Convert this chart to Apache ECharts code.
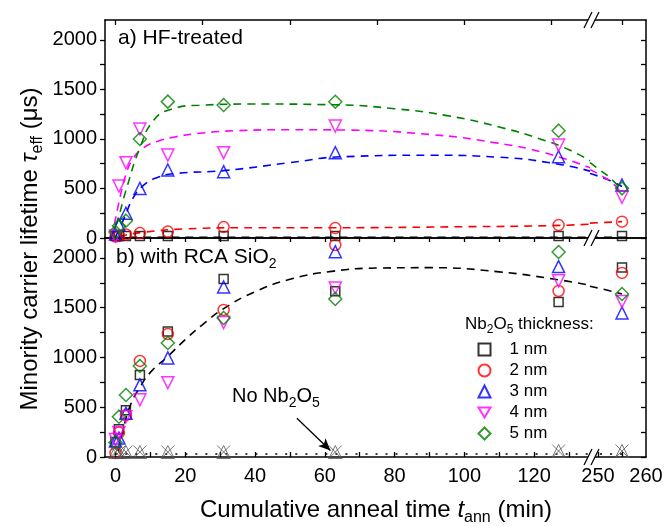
<!DOCTYPE html>
<html>
<head>
<meta charset="utf-8">
<script src="https://cdn.jsdelivr.net/npm/echarts@6/dist/echarts.min.js"></script>
<style>
html, body { margin: 0; padding: 0; background: #fff; }
#chart { width: 665px; height: 526px; }
</style>
</head>
<body>
<div id="chart"></div>
<script>
// cumulative anneal times (min)
const times = [0, 1, 3, 7, 15, 31, 63, 127, 255];
const thickness = ['1 nm', '2 nm', '3 nm', '4 nm', '5 nm'];

// a) HF-treated, tau_eff (us)
const hf1nm = [20, 20, 20, 20, 20, 20, 20, 20, 20];
const hf2nm = [15, 20, 35, 50, 65, 110, 100, 130, 165];
const hf3nm = [40, 130, 250, 500, 686, 669, 861, 820, 535];
const hf4nm = [20, 525, 760, 1100, 837, 861, 1130, 938, 410];
const hf5nm = [60, 120, 175, 999, 1376, 1342, 1375, 1083, 501];

// b) with RCA SiO2, tau_eff (us)
const rca1nm = [150, 280, 470, 825, 1260, 1789, 1665, 1556, 1903];
const rca2nm = [40, 245, 420, 965, 1236, 1477, 2130, 1668, 1849];
const rca3nm = [160, 190, 440, 725, 995, 1708, 2063, 1913, 1447];
const rca4nm = [175, 245, 405, 575, 747, 1350, 1698, 1770, 1561];
const rca5nm = [145, 405, 623, 915, 1145, 1397, 1588, 2060, 1638];
const noNb = [50, 50, 50, 50, 50, 50, 50, 60, 60];

// guide-to-the-eye curves [t, tau]
const fitHf1 = [[0, 8], [136, 8], [248.33, 8], [256, 8]];
const fitHf2 = [[1, 15], [3, 30], [8, 58], [20, 92], [40, 104], [63, 104], [100, 114], [124, 124], [136, 140], [248.33, 150], [255, 165]];
const fitHf3 = [[0, 10], [2.5, 200], [5, 400], [8, 530], [12, 610], [17, 650], [31, 680], [50, 760], [65, 820], [90, 835], [110, 815], [127, 745], [136, 675], [248.33, 650], [252, 590], [255, 520]];
const fitHf4 = [[-1, 0], [1, 360], [3, 640], [5, 800], [8, 910], [12, 975], [17, 1020], [25, 1060], [34, 1082], [50, 1093], [64, 1090], [90, 1045], [109, 960], [123, 860], [136, 710], [248.33, 690], [251, 620], [253, 555], [255, 440]];
const fitHf5 = [[-1.5, 0], [0.5, 170], [3, 480], [7, 910], [11, 1190], [16, 1300], [24, 1340], [40, 1352], [62, 1345], [80, 1305], [95, 1235], [110, 1120], [123, 985], [130, 890], [136, 780], [248.33, 760], [250, 700], [253, 585], [255, 470]];
const fitRca = [[0.8, 60], [2.5, 320], [4.5, 540], [7, 700], [10, 850], [15, 1010], [20, 1180], [25, 1330], [31, 1490], [40, 1660], [50, 1785], [62, 1865], [75, 1898], [90, 1902], [110, 1860], [127, 1780], [136, 1725], [248.33, 1715], [252, 1675], [255, 1638]];
const fitNoNb = [[0, 30], [136, 30], [248.33, 30], [256, 30]];

// axis ticks
const xLabelsLeft = [0, 20, 40, 60, 80, 100, 120];
const xTicksLeft = [0, 10, 20, 30, 40, 50, 60, 70, 80, 90, 100, 110, 120, 130];
const xTicksTop = [0, 25, 50, 75, 100, 125];
const xLabelsRight = [250, 260];
const yLabels = [0, 500, 1000, 1500, 2000];
const yTicks = [0, 250, 500, 750, 1000, 1250, 1500, 1750, 2000];

const FONT = 'Liberation Sans';
const colors = ['#000000', '#ff0000', '#0000ff', '#ff00ff', '#008000'];
const symbols = ['rect', 'circle', 'triangle', 'triangle', 'diamond'];
const symbolRot = [0, 0, 0, 180, 0];
const symbolSizes = [9, 11, 12, 12, 13];
const legendIcons = ['rect', 'circle', 'triangle', 'path://M0,0L12,0L6,10Z', 'diamond'];

const chart = echarts.init(document.getElementById('chart'));

const BREAK_T = 200;
const pairs = vals => times.map((t, i) => [t, vals[i]]);
const seg = (pts, s) => pts.filter(p => (s === 0 ? p[0] < BREAK_T : p[0] > BREAK_T));

const lineTick = { color: '#000', width: 1.3 };
const plain = v => String(v);

function xAx(grid, pos, min, max, o) {
  return {
    type: 'value', gridIndex: grid, position: pos, min: min, max: max,
    axisLine: { show: true, onZero: false, lineStyle: { color: '#000', width: 1.5 } },
    splitLine: { show: false },
    axisTick: { show: !!o.ticks, inside: true, length: o.len || 5, customValues: o.ticks, lineStyle: lineTick },
    axisLabel: { show: !!o.labels, customValues: o.labels, formatter: plain, margin: 9, fontSize: 20, color: '#000', fontFamily: FONT }
  };
}

function yAx(grid, pos, labels) {
  return {
    type: 'value', gridIndex: grid, position: pos, min: 0, max: 2200,
    axisLine: { show: true, onZero: false, lineStyle: { color: '#000', width: 1.5 } },
    splitLine: { show: false },
    axisTick: { show: true, inside: !labels, length: 5, customValues: yTicks, lineStyle: lineTick },
    axisLabel: { show: labels, customValues: yLabels, formatter: plain, margin: 8, fontSize: 20, color: '#000', fontFamily: FONT }
  };
}

const series = [];

function addPanel(p, markerSets, fits) {
  for (let s = 0; s < 2; s++) {
    const xi = p * 4 + s * 2;
    const yi = p * 2 + s;
    fits.forEach(f => {
      series.push({
        type: 'line', name: f.name, xAxisIndex: xi, yAxisIndex: yi,
        data: seg(f.data, s), showSymbol: false, symbol: 'none',
        smooth: 0.5, silent: true, z: 2,
        lineStyle: { color: f.color, width: 1.6, type: f.dash }
      });
    });
    markerSets.forEach((vals, i) => {
      series.push({
        type: 'scatter', name: thickness[i], xAxisIndex: xi, yAxisIndex: yi,
        data: seg(pairs(vals), s), symbol: symbols[i], symbolRotate: symbolRot[i],
        symbolSize: symbolSizes[i], silent: true, z: 3,
        itemStyle: { color: 'none', borderColor: colors[i], borderWidth: 1.5 }
      });
    });
  }
}

addPanel(0, [hf1nm, hf2nm, hf3nm, hf4nm, hf5nm], [
  { name: 'fit a 1', data: fitHf1, color: colors[0], dash: [8, 6] },
  { name: 'fit a 2', data: fitHf2, color: colors[1], dash: [8, 6] },
  { name: 'fit a 3', data: fitHf3, color: colors[2], dash: [8, 6] },
  { name: 'fit a 4', data: fitHf4, color: colors[3], dash: [8, 6] },
  { name: 'fit a 5', data: fitHf5, color: colors[4], dash: [8, 6] }
]);
addPanel(1, [rca1nm, rca2nm, rca3nm, rca4nm, rca5nm], [
  { name: 'fit b', data: fitRca, color: '#000', dash: [8, 6] },
  { name: 'fit none', data: fitNoNb, color: '#000', dash: [2, 8] }
]);

// no Nb2O5 reference samples (panel b)
for (let s = 0; s < 2; s++) {
  series.push({
    type: 'scatter', name: 'No Nb2O5', xAxisIndex: 4 + s * 2, yAxisIndex: 2 + s,
    data: seg(pairs(noNb), s), silent: true, z: 3,
    symbol: 'path://M0,0L10,10M10,0L0,10M5,0L0,10L10,10Z', symbolSize: 13,
    itemStyle: { color: 'none', borderColor: '#555555', borderWidth: 1 },
    markLine: s === 0 ? {
      silent: true, animation: false, symbol: ['none', 'arrow'], symbolSize: [8, 12],
      label: { show: false },
      lineStyle: { color: '#000', width: 1.3, type: 'solid' },
      data: [[{ coord: [52, 390] }, { coord: [61.6, 65] }]]
    } : undefined
  });
}

function breakMark(x, y) {
  return [
    { type: 'polygon', z: 100, shape: { points: [[x - 7, y + 8], [x + 1, y - 8], [x + 8, y - 8], [x, y + 8]] }, style: { fill: '#fff' } },
    { type: 'line', z: 101, shape: { x1: x - 7, y1: y + 8, x2: x + 1, y2: y - 8 }, style: { stroke: '#000', lineWidth: 1.3 } },
    { type: 'line', z: 101, shape: { x1: x, y1: y + 8, x2: x + 8, y2: y - 8 }, style: { stroke: '#000', lineWidth: 1.3 } }
  ];
}

function sub(size, big, line) {
  return {
    n: { fontSize: big, fontFamily: FONT, color: '#000', lineHeight: line },
    i: { fontSize: big, fontFamily: FONT, fontStyle: 'italic', color: '#000', lineHeight: line },
    s: { fontSize: size, fontFamily: FONT, color: '#000', lineHeight: size, verticalAlign: 'bottom' }
  };
}

const graphics = [].concat(
  breakMark(591, 20), breakMark(591, 238), breakMark(591, 457),
  [
    { type: 'text', x: 118, y: 38, z: 50, style: { text: 'a) HF-treated', font: '21px "Liberation Sans"', fill: '#000', textVerticalAlign: 'middle' } },
    { type: 'text', x: 116, y: 257, z: 50, style: { text: '{n|b) with RCA SiO}{s|2}', rich: sub(14, 21, 28), textVerticalAlign: 'middle' } },
    { type: 'text', x: 465, y: 324, z: 50, style: { text: '{n|Nb}{s|2}{n|O}{s|5}{n| thickness:}', rich: sub(12, 17, 24), textVerticalAlign: 'middle' } },
    { type: 'text', x: 232, y: 396, z: 50, style: { text: '{n|No Nb}{s|2}{n|O}{s|5}', rich: sub(14, 20, 28), textVerticalAlign: 'middle' } },
    { type: 'text', x: 30, y: 249, z: 50, rotation: Math.PI / 2, style: { text: '{n|Minority carrier lifetime }{i|τ}{s|eff}{n| (μs)}', rich: sub(16, 24, 32), textAlign: 'center', textVerticalAlign: 'middle' } },
    { type: 'text', x: 376, y: 510, z: 50, style: { text: '{n|Cumulative anneal time }{i|t}{s|ann}{n| (min)}', rich: sub(16, 24, 32), textAlign: 'center', textVerticalAlign: 'middle' } }
  ]
);

chart.setOption({
  animation: false,
  backgroundColor: '#fff',
  textStyle: { fontFamily: FONT },
  grid: [
    { left: 105, top: 20, width: 485, height: 218, containLabel: false, outerBoundsMode: 'none' },
    { left: 590, top: 20, width: 56, height: 218, containLabel: false, outerBoundsMode: 'none' },
    { left: 105, top: 238, width: 485, height: 219, containLabel: false, outerBoundsMode: 'none' },
    { left: 590, top: 238, width: 56, height: 219, containLabel: false, outerBoundsMode: 'none' }
  ],
  xAxis: [
    xAx(0, 'bottom', -3, 136, {}),
    xAx(0, 'top', -3, 136, { ticks: xTicksTop, len: 5 }),
    xAx(1, 'bottom', 248.33, 260, {}),
    xAx(1, 'top', 248.33, 260, { ticks: [255], len: 5 }),
    xAx(2, 'bottom', -3, 136, { ticks: xTicksLeft, labels: xLabelsLeft, len: 5 }),
    xAx(2, 'top', -3, 136, { ticks: xTicksLeft, len: 4 }),
    xAx(3, 'bottom', 248.33, 260, { ticks: [250, 255], labels: xLabelsRight, len: 5 }),
    xAx(3, 'top', 248.33, 260, {})
  ],
  yAxis: [
    yAx(0, 'left', true),
    yAx(1, 'right', false),
    yAx(2, 'left', true),
    yAx(3, 'right', false)
  ],
  legend: {
    data: thickness.map((n, i) => ({ name: n, icon: legendIcons[i] })),
    orient: 'vertical', left: 471, top: 336, selectedMode: false,
    itemWidth: 12, itemHeight: 12, itemGap: 4,
    textStyle: { fontSize: 17, color: '#000', fontFamily: FONT, padding: [0, 0, 0, 14] }
  },
  graphic: { elements: graphics },
  series: series
});
</script>
</body>
</html>
